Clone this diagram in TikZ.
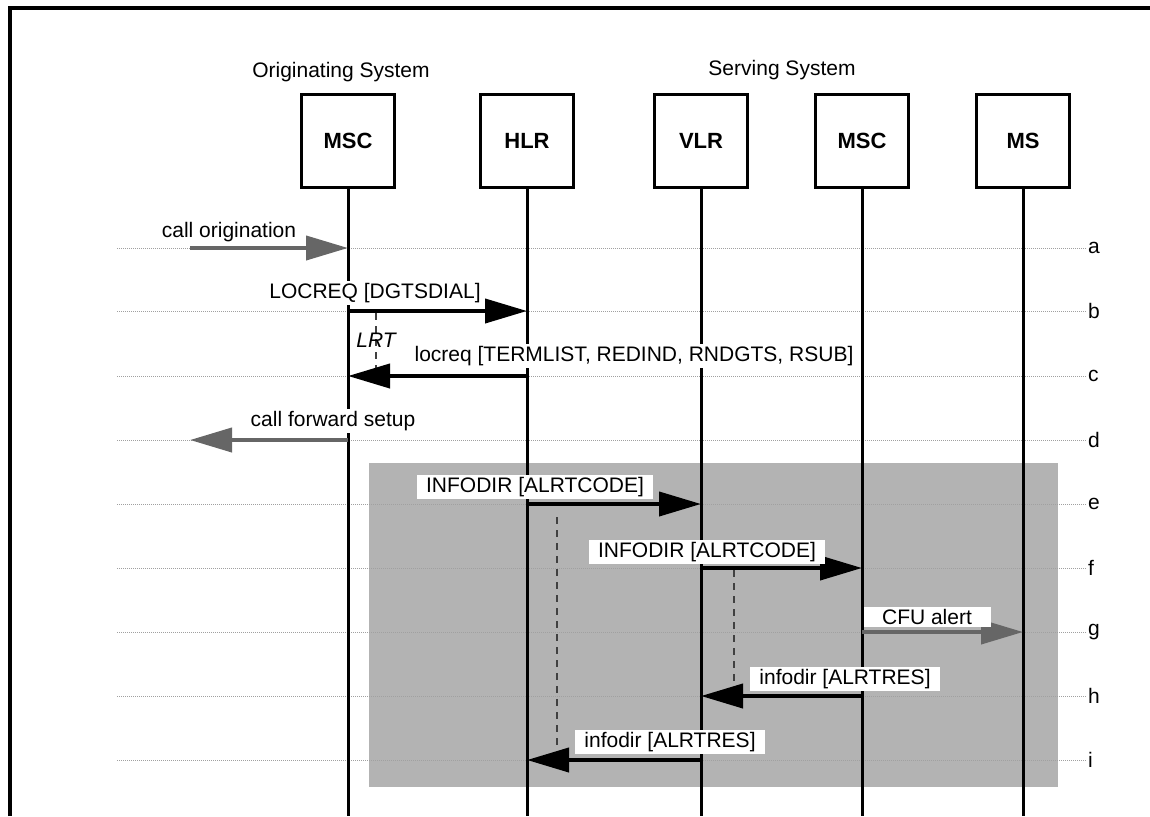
\documentclass[tikz,border=0pt]{standalone}
\usepackage{fontspec}
\setmainfont{Liberation Sans}
\usepackage{tikz}
\usetikzlibrary{arrows.meta,positioning}
\definecolor{SigShade}{HTML}{B3B3B3}
\definecolor{SigGray}{HTML}{666666}
\definecolor{SigDot}{HTML}{A0A0A0}
\definecolor{SigDash}{HTML}{404040}

\begin{document}
\begin{tikzpicture}[
  x=1pt, y=-1pt,
  entity/.style={draw, line width=3pt, minimum size=93pt, inner sep=0pt, font=\fontsize{22}{26}\selectfont\bfseries},
  life/.style={line width=3pt},
  rowline/.style={draw=SigDot, line width=1pt, densely dotted},
  rowlbl/.style={anchor=west, inner sep=1pt, font=\fontsize{21}{24}\selectfont},
  msg/.style={line width=4pt, -{Triangle[length=42pt,width=24pt]}},
  gmsg/.style={msg, draw=SigGray},
  txt/.style={font=\fontsize{21}{24}\selectfont, inner sep=1pt},
  tag/.style={txt, fill=white, inner xsep=9pt, inner ysep=2pt},
  timer/.style={draw=SigDash, line width=2pt, dash pattern=on 7pt off 6pt}
]
  \useasboundingbox (0,0) rectangle (1150,816);
  \coordinate (bot) at (0,816);
  \coordinate (ext) at (190,0);

  \fill[SigShade] (369,463) rectangle (1058,787);

  \foreach \r/\y in {a/248,b/311,c/376,d/440,e/504,f/568,g/632,h/696,i/760} {
    \coordinate (row\r) at (0,\y);
    \node[rowlbl] (lbl\r) at (1087,\y) {\r};
    \draw[rowline] (117,\y) -- (lbl\r.west);
  }

  \draw[line width=4pt] (10,816) -- (10,8) -- (1150,8);

  \node[txt] (orig) at (341,72) {Originating System};
  \node[txt] (serv) at (782,70) {Serving System};

  \node[entity] (msco) at (348,141) {MSC};
  \node[entity, right=83pt of msco] (hlr) {HLR};
  \node[entity, right=78pt of hlr] (vlr) {VLR};
  \node[entity, right=65pt of vlr] (mscs) {MSC};
  \node[entity, right=65pt of mscs] (ms) {MS};

  \foreach \n in {msco,hlr,vlr,mscs,ms}
    \draw[life] (\n.south) -- (\n.south |- bot);

  \draw[timer] (376,313) -- (376,376);
  \draw[timer] (557,517) -- (557,750);
  \draw[timer] (734,570) -- (734,690);

  \draw[gmsg] (ext |- rowa) -- (msco |- rowa);
  \draw[msg] (msco |- rowb) -- (hlr |- rowb);
  \draw[msg] (hlr |- rowc) -- (msco |- rowc);
  \draw[gmsg] (msco |- rowd) -- (ext |- rowd);
  \draw[msg] (hlr |- rowe) -- (vlr |- rowe);
  \draw[msg] (vlr |- rowf) -- (mscs |- rowf);
  \draw[gmsg] (mscs |- rowg) -- (ms |- rowg);
  \draw[msg] (mscs |- rowh) -- (vlr |- rowh);
  \draw[msg] (vlr |- rowi) -- (hlr |- rowi);

  \node[tag, inner xsep=2pt] (lorig) at (229,232) {call origination};
  \node[tag, inner xsep=2pt] (lloc) at (375,293) {LOCREQ [DGTSDIAL]};
  \node[txt, font=\fontsize{21}{24}\selectfont\itshape] (llrt) at (376,340) {LRT};
  \node[tag, inner xsep=2pt] (lrsp) at (634,356) {locreq [TERMLIST, REDIND, RNDGTS, RSUB]};
  \node[tag, inner xsep=2pt] (lcfs) at (333,421) {call forward setup};
  \node[tag] (linf1) at (535,487) {INFODIR [ALRTCODE]};
  \node[tag] (linf2) at (707,552) {INFODIR [ALRTCODE]};
  \node[tag, minimum width=127pt] (lcfu) at (927,617) {CFU alert};
  \node[tag] (lres1) at (845,679) {infodir [ALRTRES]};
  \node[tag] (lres2) at (670,742) {infodir [ALRTRES]};
\end{tikzpicture}
\end{document}
